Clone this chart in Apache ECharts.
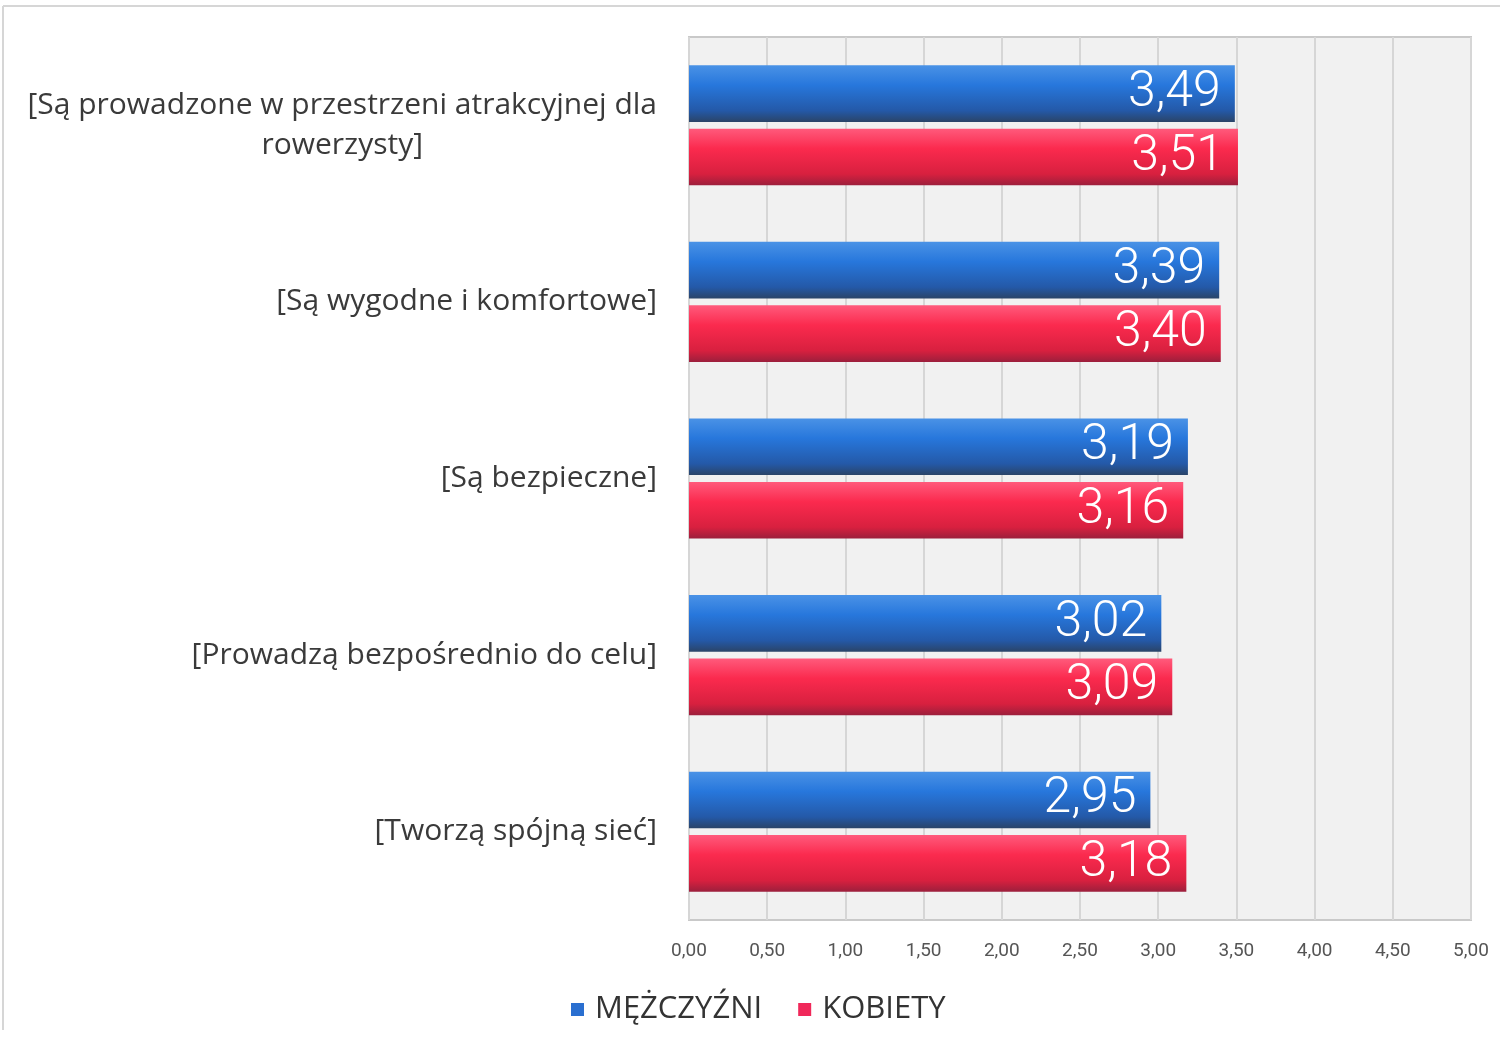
<!DOCTYPE html>
<html>
<head>
<meta charset="utf-8">
<script src="https://cdn.jsdelivr.net/npm/echarts@6/dist/echarts.min.js"></script>
<style>
  html, body { margin: 0; padding: 0; background: #fff; }
  #chart { width: 1504px; height: 1046px; }
</style>
</head>
<body>
<div id="chart"></div>
<script>
const categories = [
  "[Są prowadzone w przestrzeni atrakcyjnej dla\nrowerzysty]",
  "[Są wygodne i komfortowe]",
  "[Są bezpieczne]",
  "[Prowadzą bezpośrednio do celu]",
  "[Tworzą spójną sieć]"
]
const men = [3.49, 3.39, 3.19, 3.02, 2.95]
const women = [3.51, 3.40, 3.16, 3.09, 3.18]
const seriesNames = ["MĘŻCZYŹNI", "KOBIETY"]

const fmt = (v) => Number(v).toFixed(2).replace(".", ",")

const chart = echarts.init(document.getElementById("chart"), null, { renderer: "canvas" })

const gradient = (stops) => new echarts.graphic.LinearGradient(0, 0, 0, 1, stops)

const blueFill = gradient([
  { offset: 0, color: "#4a92e6" },
  { offset: 0.35, color: "#2777dc" },
  { offset: 0.8, color: "#2459a8" },
  { offset: 1, color: "#2a4468" }
])
const redFill = gradient([
  { offset: 0, color: "#ff5a7c" },
  { offset: 0.35, color: "#fb2a4e" },
  { offset: 0.8, color: "#d8203f" },
  { offset: 1, color: "#9c1f3c" }
])

const labelStyle = {
  show: true,
  position: "insideRight",
  distance: 14,
  color: "#ffffff",
  fontSize: 50,
  fontWeight: 300,
  fontFamily: "Roboto, 'Open Sans', sans-serif",
  formatter: (p) => fmt(p.value)
}

// multi-line labels: every line centred inside the right-aligned block
const catLabel = (value) =>
  value.split("\n").map((line) => `{c|${line}}`).join("\n")

chart.setOption({
  animation: false,
  graphic: [
    { type: "line", shape: { x1: 3, y1: 6, x2: 1500, y2: 6 }, style: { stroke: "#d6d6d6", lineWidth: 2 } },
    { type: "line", shape: { x1: 3, y1: 6, x2: 3, y2: 1030 }, style: { stroke: "#d6d6d6", lineWidth: 2 } }
  ],
  grid: {
    left: 689,
    right: 33,
    top: 37,
    bottom: 126,
    show: true,
    backgroundColor: "#f1f1f1",
    borderColor: "#c9c9c9",
    borderWidth: 2
  },
  legend: {
    bottom: 16,
    left: 566,
    itemWidth: 13,
    itemHeight: 13,
    itemGap: 36,
    icon: "rect",
    textStyle: {
      fontSize: 31,
      color: "#333",
      fontFamily: "'Open Sans', Roboto, sans-serif",
      padding: [0, 0, 0, 6]
    },
    data: [
      { name: seriesNames[0], itemStyle: { color: "#2a6fd0" } },
      { name: seriesNames[1], itemStyle: { color: "#f0285a" } }
    ]
  },
  xAxis: {
    type: "value",
    min: 0,
    max: 5,
    interval: 0.5,
    axisLine: { show: false },
    axisTick: { show: false },
    axisLabel: {
      color: "#555",
      fontSize: 19,
      margin: 22,
      fontFamily: "'Liberation Sans Narrow', Roboto, sans-serif",
      formatter: (v) => fmt(v)
    },
    splitLine: { show: true, lineStyle: { color: "#d6d6d6", width: 2 } }
  },
  yAxis: {
    type: "category",
    data: categories,
    inverse: true,
    axisLine: { show: false },
    axisTick: { show: false },
    axisLabel: {
      margin: 32,
      align: "right",
      formatter: catLabel,
      rich: {
        c: {
          color: "#3a3a3a",
          fontSize: 30,
          lineHeight: 40,
          align: "center",
          fontFamily: "'Open Sans', Roboto, sans-serif"
        }
      }
    }
  },
  series: [
    {
      name: seriesNames[0],
      type: "bar",
      data: men,
      barGap: "12%",
      barCategoryGap: "32%",
      itemStyle: { color: blueFill },
      label: labelStyle
    },
    {
      name: seriesNames[1],
      type: "bar",
      data: women,
      itemStyle: { color: redFill },
      label: labelStyle
    }
  ]
})
</script>
</body>
</html>
